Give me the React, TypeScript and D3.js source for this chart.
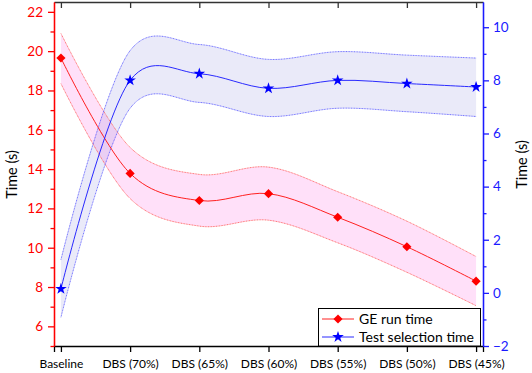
import * as d3 from "d3";
import { useRef, useEffect } from "react";

// chart data
const categories = ["Baseline", "DBS (70%)", "DBS (65%)", "DBS (60%)", "DBS (55%)", "DBS (50%)", "DBS (45%)"];
const geRunTime = [19.65, 13.78, 12.4, 12.75, 11.55, 10.05, 8.3];
const geUpper = [20.9, 15.1, 13.73, 14.1, 12.85, 11.35, 9.55];
const geLower = [18.35, 12.5, 11.1, 11.4, 10.25, 8.75, 7.05];
const selTime = [0.15, 8.0, 8.25, 7.7, 8.0, 7.88, 7.75];
const selUpper = [1.25, 9.12, 9.35, 8.79, 9.08, 8.95, 8.84];
const selLower = [-0.92, 6.95, 7.17, 6.64, 6.95, 6.82, 6.64];
const leftTicks = [6, 8, 10, 12, 14, 16, 18, 20, 22];
const rightTicks = [-2, 0, 2, 4, 6, 8, 10];
const legendLabels = ["GE run time", "Test selection time"];

const width = 532;
const height = 373;
const marginTop = 2;
const marginRight = 49;
const marginBottom = 27;
const marginLeft = 54;

const font = "Lato, 'Open Sans', sans-serif";
const red = "#ff0000";
const blue = "#1a1aff";

const Chart = () => {
  const ref = useRef<SVGSVGElement>(null);

  useEffect(() => {
    if (!ref.current) return;
    const svg = d3.select(ref.current);
    svg.selectAll("*").remove();

    const x = d3.scalePoint<string>()
      .domain(categories)
      .range([marginLeft, width - marginRight])
      .padding(0.1);
    const yL = d3.scaleLinear().domain([5, 22.5]).range([height - marginBottom, marginTop]);
    const yR = d3.scaleLinear().domain([-2, 10.95]).range([height - marginBottom, marginTop]);

    const smooth = d3.curveCatmullRom.alpha(0.15);

    const bandArea = (yS: d3.ScaleLinear<number, number>, lo: number[], hi: number[]) =>
      d3.area<number>()
        .x((_, i) => x(categories[i])!)
        .y0((_, i) => yS(lo[i]))
        .y1((_, i) => yS(hi[i]))
        .curve(smooth)(lo);
    const curveLine = (yS: d3.ScaleLinear<number, number>, vals: number[]) =>
      d3.line<number>()
        .x((_, i) => x(categories[i])!)
        .y((d) => yS(d))
        .curve(smooth)(vals);

    // error bands
    svg.append("path").attr("d", bandArea(yL, geLower, geUpper))
      .attr("fill", "#ff00cc").attr("fill-opacity", 0.12);
    svg.append("path").attr("d", bandArea(yR, selLower, selUpper))
      .attr("fill", "#3030c0").attr("fill-opacity", 0.1);

    // dotted band edges
    [[yL, geUpper, "#ff5050"], [yL, geLower, "#ff5050"], [yR, selUpper, "#5050ff"], [yR, selLower, "#5050ff"]]
      .forEach(([s, v, c]) => {
        svg.append("path").attr("d", curveLine(s as any, v as number[]))
          .attr("fill", "none").attr("stroke", c as string)
          .attr("stroke-width", 0.8).attr("stroke-dasharray", "1,0.6");
      });

    // main lines
    svg.append("path").attr("d", curveLine(yL, geRunTime))
      .attr("fill", "none").attr("stroke", "#ff2020").attr("stroke-width", 1);
    svg.append("path").attr("d", curveLine(yR, selTime))
      .attr("fill", "none").attr("stroke", "#2a2aff").attr("stroke-width", 1);

    const diamond = d3.symbol(d3.symbolSquare, 42)();
    const star = d3.symbol(d3.symbolStar, 42)();

    svg.append("g").selectAll("path").data(geRunTime).enter().append("path")
      .attr("d", diamond)
      .attr("transform", (d, i) => `translate(${x(categories[i])},${yL(d)}) rotate(45)`)
      .attr("fill", red);
    svg.append("g").selectAll("path").data(selTime).enter().append("path")
      .attr("d", star)
      .attr("transform", (d, i) => `translate(${x(categories[i])},${yR(d)})`)
      .attr("fill", "#0000ff");

    const bottom = height - marginBottom;
    const right = width - marginRight;

    // top axis
    svg.append("g")
      .attr("transform", `translate(0,${marginTop})`)
      .call(d3.axisTop(x).tickSizeOuter(0).tickSizeInner(-6).tickFormat(() => ""))
      .call((g) => g.selectAll("line,path").attr("stroke", "#333").attr("stroke-width", 1.3));

    // bottom axis
    const xAxis = svg.append("g")
      .attr("transform", `translate(0,${bottom})`)
      .call(d3.axisBottom(x).tickSizeOuter(0).tickSize(6).tickPadding(7));
    xAxis.selectAll("line,path").attr("stroke", "#000").attr("stroke-width", 1.3);
    xAxis.selectAll("text").attr("font-family", font).attr("font-size", 12).attr("fill", "#000");

    // left axis
    const leftMinor = d3.range(5, 23, 1).filter((v) => v % 2 === 1);
    const lAxis = svg.append("g").attr("transform", `translate(${marginLeft},0)`);
    lAxis.call(d3.axisLeft(yL).tickValues(leftMinor).tickSize(3.5).tickFormat(() => "").tickSizeOuter(0));
    lAxis.append("g").call(d3.axisLeft(yL).tickValues(leftTicks).tickSize(6).tickPadding(5).tickSizeOuter(0));
    lAxis.selectAll("line,path").attr("stroke", red).attr("stroke-width", 1.3);
    lAxis.selectAll("text").attr("font-family", font).attr("font-size", 13.5).attr("fill", red);

    // right axis
    const rightMinor = d3.range(-1, 11, 2);
    const rAxis = svg.append("g").attr("transform", `translate(${right},0)`);
    rAxis.call(d3.axisRight(yR).tickValues(rightMinor).tickSize(3.5).tickFormat(() => "").tickSizeOuter(0));
    rAxis.append("g").call(d3.axisRight(yR).tickValues(rightTicks).tickSize(6).tickPadding(4).tickSizeOuter(0));
    rAxis.selectAll("line,path").attr("stroke", blue).attr("stroke-width", 1.3);
    rAxis.selectAll("text").attr("font-family", font).attr("font-size", 13.5).attr("fill", blue);

    // axis titles
    svg.append("text").attr("transform", `translate(17,174.5) rotate(-90)`)
      .attr("text-anchor", "middle").attr("font-family", font).attr("font-size", 14.5).text("Time (s)");
    svg.append("text").attr("transform", `translate(527,164.5) rotate(-90)`)
      .attr("text-anchor", "middle").attr("font-family", font).attr("font-size", 14.5).text("Time (s)");

    // legend
    const legend = svg.append("g");
    legend.append("rect").attr("x", 318.5).attr("y", 308.5).attr("width", 162).attr("height", bottom - 308.5)
      .attr("fill", "#fff").attr("stroke", "#000").attr("stroke-width", 1);
    legendLabels.forEach((lab, i) => {
      const ly = 319 + i * 18;
      const col = i === 0 ? "#ff2020" : "#2a2aff";
      legend.append("line").attr("x1", 322).attr("x2", 354).attr("y1", ly).attr("y2", ly)
        .attr("stroke", col).attr("stroke-width", 1);
      legend.append("path").attr("d", i === 0 ? diamond : star)
        .attr("transform", `translate(338,${ly})${i === 0 ? " rotate(45)" : ""}`)
        .attr("fill", i === 0 ? red : "#0000ff");
      legend.append("text").attr("x", 359).attr("y", ly + 5)
        .attr("font-family", font).attr("font-size", 14).attr("fill", "#000").text(lab);
    });
  }, []);

  return (
    <svg ref={ref} width={width} height={height}
      style={{ position: "absolute", left: 0, top: 0, background: "#fff" }} />
  );
};

export default function App() {
  return <Chart />;
}
